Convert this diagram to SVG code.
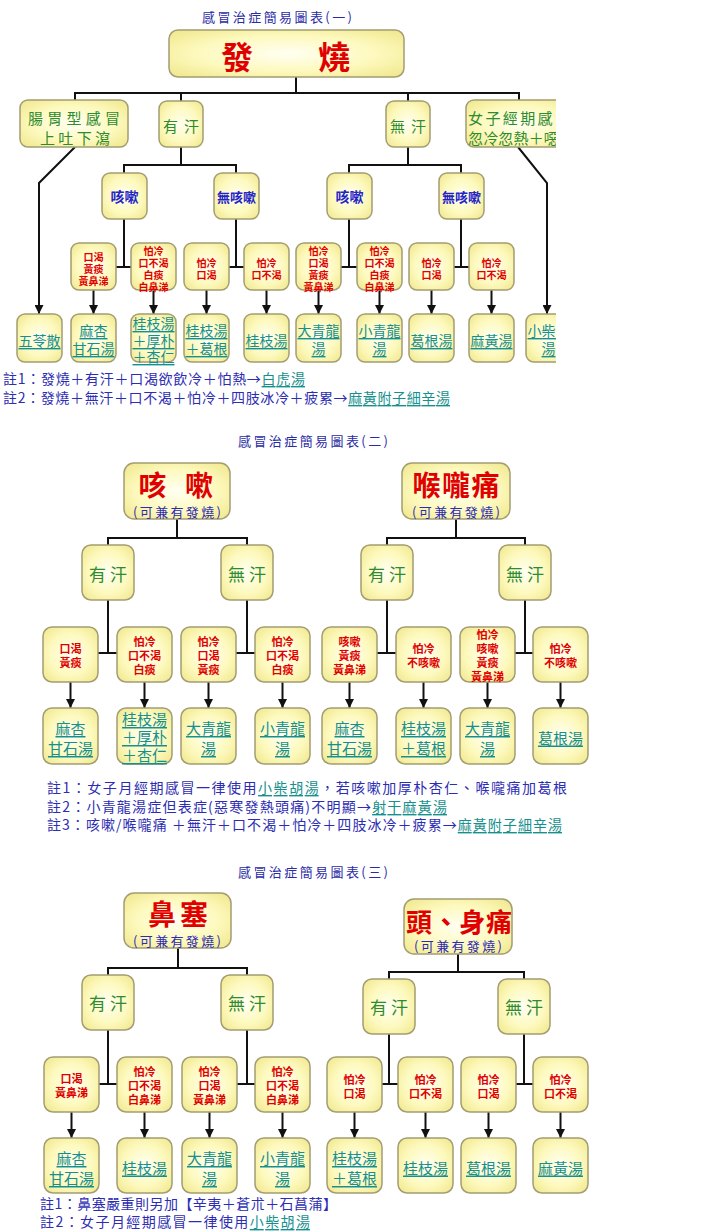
<svg xmlns="http://www.w3.org/2000/svg" width="705" height="1231" viewBox="0 0 705 1231">
<defs>
<radialGradient id="yg" cx="50%" cy="50%" r="70%">
<stop offset="0%" stop-color="#fffff2"/>
<stop offset="55%" stop-color="#fdf9bd"/>
<stop offset="100%" stop-color="#efe68a"/>
</radialGradient>
<marker id="ah" viewBox="0 0 10 10" refX="10" refY="5" markerWidth="9" markerHeight="9" markerUnits="userSpaceOnUse" orient="auto">
<path d="M0,0 L10,5 L0,10 z" fill="#111"/>
</marker>
<clipPath id="c1"><rect x="0" y="0" width="556" height="372"/></clipPath>
</defs>
<style>
.box{fill:url(#yg);stroke:#a39d72;stroke-width:1.5}
.ln{fill:none;stroke:#111;stroke-width:2}
.ar{fill:none;stroke:#111;stroke-width:2;marker-end:url(#ah)}
text{font-family:"Noto Sans CJK TC","Noto Sans CJK SC",sans-serif;text-anchor:middle;dominant-baseline:central}
.title{font-size:13px;fill:#2b2ba6}
.big{font-size:28px;fill:#e00000;font-weight:bold}
.sub{font-size:13px;fill:#2b2bb3}
.sw{font-size:17px;fill:#2e8b2e}
.sw1{font-size:15px;fill:#2e8b2e}
.cg{font-size:13px;fill:#2323c8;font-weight:bold}
.cd{font-size:10px;fill:#e00000;font-weight:bold}
.cd2{font-size:11px;fill:#e00000;font-weight:bold}
.rs{font-size:14px;fill:#16908e;text-decoration:underline}
.rs2{font-size:15px;fill:#16908e;text-decoration:underline}
.note{font-size:14px;fill:#2d2db3;text-anchor:start}
.lk{fill:#16908e;text-decoration:underline}
</style>
<rect width="705" height="1231" fill="#ffffff"/>

<!-- ============ SECTION 1 ============ -->
<g clip-path="url(#c1)">
<text class="title" x="277" y="16" textLength="150" lengthAdjust="spacing">感冒治症簡易圖表(一)</text>
<g id="connectors1">
<path class="ln" d="M296,77 V93 M75,100 V93 H519 V100 M181,93 V101 M408,93 V101"/>
<path class="ar" d="M75,147 L39,183 V314"/>
<path class="ar" d="M518,147 L547,183 V314"/>
<path class="ln" d="M181,147 V165 M124,173 V165 H236 V173"/>
<path class="ln" d="M408,147 V165 M349,173 V165 H461 V173"/>
<path class="ln" d="M124,219 V267 M116,267 H131"/>
<path class="ln" d="M236,219 V267 M229,267 H244"/>
<path class="ln" d="M349,219 V267 M341,267 H357"/>
<path class="ln" d="M461,219 V267 M454,267 H469"/>
<path class="ar" d="M93.5,290 V314"/>
<path class="ar" d="M153.5,290 V314"/>
<path class="ar" d="M206.5,290 V314"/>
<path class="ar" d="M266.5,290 V314"/>
<path class="ar" d="M318.5,290 V314"/>
<path class="ar" d="M379.5,290 V314"/>
<path class="ar" d="M431.5,290 V314"/>
<path class="ar" d="M491.5,290 V314"/>
</g>
<g id="n1-fever"><rect class="box" x="169" y="30" width="235" height="47" rx="9"/>
<text class="big" style="font-size:32px" x="237 286 334" y="55">發　燒</text></g>
<g id="n1-gastro"><rect class="box" x="20" y="100" width="108" height="47" rx="8"/>
<text class="sw1"><tspan x="74" y="117" textLength="92" lengthAdjust="spacing">腸胃型感冒</tspan><tspan x="75" y="137" textLength="70" lengthAdjust="spacing">上吐下瀉</tspan></text></g>
<g id="n1-sweat"><rect class="box" x="159" y="101" width="44" height="46" rx="8"/>
<text class="sw1" x="181" y="125" textLength="36" lengthAdjust="spacing">有汗</text></g>
<g id="n1-nosweat"><rect class="box" x="386" y="101" width="44" height="46" rx="8"/>
<text class="sw1" x="408" y="125" textLength="36" lengthAdjust="spacing">無汗</text></g>
<g id="n1-female"><rect class="box" x="466" y="100" width="112" height="47" rx="8"/>
<text class="sw1" style="text-anchor:start"><tspan x="468" y="117" textLength="102" lengthAdjust="spacing">女子經期感冒</tspan><tspan x="468" y="137" textLength="106" lengthAdjust="spacing">忽冷忽熱＋噁心</tspan></text></g>
<g id="n1-cough-a"><rect class="box" x="102" y="173" width="45" height="46" rx="8"/>
<text class="cg" style="font-size:14px" x="124.5" y="196">咳嗽</text></g>
<g id="n1-nocough-a"><rect class="box" x="214" y="173" width="45" height="46" rx="8"/>
<text class="cg" x="236.5" y="196">無咳嗽</text></g>
<g id="n1-cough-b"><rect class="box" x="327" y="173" width="45" height="46" rx="8"/>
<text class="cg" style="font-size:14px" x="349.5" y="196">咳嗽</text></g>
<g id="n1-nocough-b"><rect class="box" x="439" y="173" width="45" height="46" rx="8"/>
<text class="cg" x="461.5" y="196">無咳嗽</text></g>
<g id="n1-c1"><rect class="box" x="71" y="243" width="45" height="47" rx="8"/>
<text class="cd"><tspan x="93.5" y="256">口渴</tspan><tspan x="93.5" y="268">黃痰</tspan><tspan x="93.5" y="280">黃鼻涕</tspan></text></g>
<g id="n1-c2"><rect class="box" x="131" y="243" width="45" height="47" rx="8"/>
<text class="cd"><tspan x="153.5" y="250">怕冷</tspan><tspan x="153.5" y="262">口不渴</tspan><tspan x="153.5" y="274">白痰</tspan><tspan x="153.5" y="286">白鼻涕</tspan></text></g>
<g id="n1-c3"><rect class="box" x="184" y="243" width="45" height="47" rx="8"/>
<text class="cd"><tspan x="206.5" y="262">怕冷</tspan><tspan x="206.5" y="274">口渴</tspan></text></g>
<g id="n1-c4"><rect class="box" x="244" y="243" width="45" height="47" rx="8"/>
<text class="cd"><tspan x="266.5" y="262">怕冷</tspan><tspan x="266.5" y="274">口不渴</tspan></text></g>
<g id="n1-c5"><rect class="box" x="296" y="243" width="45" height="47" rx="8"/>
<text class="cd"><tspan x="318.5" y="250">怕冷</tspan><tspan x="318.5" y="262">口渴</tspan><tspan x="318.5" y="274">黃痰</tspan><tspan x="318.5" y="286">黃鼻涕</tspan></text></g>
<g id="n1-c6"><rect class="box" x="357" y="243" width="45" height="47" rx="8"/>
<text class="cd"><tspan x="379.5" y="250">怕冷</tspan><tspan x="379.5" y="262">口不渴</tspan><tspan x="379.5" y="274">白痰</tspan><tspan x="379.5" y="286">白鼻涕</tspan></text></g>
<g id="n1-c7"><rect class="box" x="409" y="243" width="45" height="47" rx="8"/>
<text class="cd"><tspan x="431.5" y="262">怕冷</tspan><tspan x="431.5" y="274">口渴</tspan></text></g>
<g id="n1-c8"><rect class="box" x="469" y="243" width="45" height="47" rx="8"/>
<text class="cd"><tspan x="491.5" y="262">怕冷</tspan><tspan x="491.5" y="274">口不渴</tspan></text></g>
<g id="n1-r0"><rect class="box" x="17" y="314" width="45" height="48" rx="8"/>
<text class="rs" x="39.5" y="340">五苓散</text></g>
<g id="n1-r1"><rect class="box" x="71" y="314" width="45" height="48" rx="8"/>
<text class="rs"><tspan x="93.5" y="330">麻杏</tspan><tspan x="93.5" y="348">甘石湯</tspan></text></g>
<g id="n1-r2"><rect class="box" x="131" y="314" width="45" height="48" rx="8"/>
<text class="rs"><tspan x="153.5" y="323">桂枝湯</tspan><tspan x="153.5" y="340">＋厚朴</tspan><tspan x="153.5" y="356">＋杏仁</tspan></text></g>
<g id="n1-r3"><rect class="box" x="184" y="314" width="45" height="48" rx="8"/>
<text class="rs"><tspan x="206.5" y="330">桂枝湯</tspan><tspan x="206.5" y="348">＋葛根</tspan></text></g>
<g id="n1-r4"><rect class="box" x="244" y="314" width="45" height="48" rx="8"/>
<text class="rs" x="266.5" y="340">桂枝湯</text></g>
<g id="n1-r5"><rect class="box" x="296" y="314" width="45" height="48" rx="8"/>
<text class="rs"><tspan x="318.5" y="330">大青龍</tspan><tspan x="318.5" y="348">湯</tspan></text></g>
<g id="n1-r6"><rect class="box" x="357" y="314" width="45" height="48" rx="8"/>
<text class="rs"><tspan x="379.5" y="330">小青龍</tspan><tspan x="379.5" y="348">湯</tspan></text></g>
<g id="n1-r7"><rect class="box" x="409" y="314" width="45" height="48" rx="8"/>
<text class="rs" x="431.5" y="340">葛根湯</text></g>
<g id="n1-r8"><rect class="box" x="469" y="314" width="45" height="48" rx="8"/>
<text class="rs" x="491.5" y="340">麻黃湯</text></g>
<g id="n1-r9"><rect class="box" x="526" y="314" width="45" height="48" rx="8"/>
<text class="rs"><tspan x="548.5" y="330">小柴胡</tspan><tspan x="548.5" y="348">湯</tspan></text></g>
</g>
<text class="note" x="3" y="378" textLength="302" lengthAdjust="spacing">註1：發燒＋有汗＋口渴欲飲冷＋怕熱→<tspan class="lk">白虎湯</tspan></text>
<text class="note" x="3" y="397" textLength="447" lengthAdjust="spacing">註2：發燒＋無汗＋口不渴＋怕冷＋四肢冰冷＋疲累→<tspan class="lk">麻黃附子細辛湯</tspan></text>

<!-- ============ SECTION 2 ============ -->
<text class="title" x="313" y="440" textLength="150" lengthAdjust="spacing">感冒治症簡易圖表(二)</text>
<g id="connectors2">
<path class="ln" d="M177,519 V538 M108,545 V538 H247 V545"/>
<path class="ln" d="M456,519 V538 M387,545 V538 H525 V545"/>
<path class="ln" d="M108,600 V653 M98,653 H117"/>
<path class="ln" d="M247,600 V653 M236,653 H255"/>
<path class="ln" d="M387,600 V653 M377,653 H396"/>
<path class="ln" d="M525,600 V653 M515,653 H533"/>
<path class="ar" d="M70.5,682 V708"/>
<path class="ar" d="M144.5,682 V708"/>
<path class="ar" d="M208.5,682 V708"/>
<path class="ar" d="M282.5,682 V708"/>
<path class="ar" d="M349.5,682 V708"/>
<path class="ar" d="M423.5,682 V708"/>
<path class="ar" d="M487.5,682 V708"/>
<path class="ar" d="M560.5,682 V708"/>
</g>
<g id="n2-cough"><rect class="box" x="124" y="463" width="106" height="56" rx="10"/>
<text class="big" x="152.5 176 199" y="484">咳　嗽</text>
<text class="sub" x="177" y="511" textLength="88" lengthAdjust="spacing">(可兼有發燒)</text></g>
<g id="n2-throat"><rect class="box" x="402" y="463" width="108" height="56" rx="10"/>
<text class="big" x="456" y="484" textLength="87" lengthAdjust="spacing">喉嚨痛</text>
<text class="sub" x="456" y="511" textLength="88" lengthAdjust="spacing">(可兼有發燒)</text></g>
<g id="n2-s1"><rect class="box" x="82" y="545" width="52" height="55" rx="9"/>
<text class="sw" x="108" y="573" textLength="38" lengthAdjust="spacing">有汗</text></g>
<g id="n2-s2"><rect class="box" x="221" y="545" width="52" height="55" rx="9"/>
<text class="sw" x="247" y="573" textLength="38" lengthAdjust="spacing">無汗</text></g>
<g id="n2-s3"><rect class="box" x="361" y="545" width="52" height="55" rx="9"/>
<text class="sw" x="387" y="573" textLength="38" lengthAdjust="spacing">有汗</text></g>
<g id="n2-s4"><rect class="box" x="499" y="545" width="52" height="55" rx="9"/>
<text class="sw" x="525" y="573" textLength="38" lengthAdjust="spacing">無汗</text></g>
<g id="n2-c1"><rect class="box" x="43" y="627" width="55" height="55" rx="9"/>
<text class="cd2"><tspan x="70.5" y="648">口渴</tspan><tspan x="70.5" y="662">黃痰</tspan></text></g>
<g id="n2-c2"><rect class="box" x="117" y="627" width="55" height="55" rx="9"/>
<text class="cd2"><tspan x="144.5" y="641">怕冷</tspan><tspan x="144.5" y="655">口不渴</tspan><tspan x="144.5" y="669">白痰</tspan></text></g>
<g id="n2-c3"><rect class="box" x="181" y="627" width="55" height="55" rx="9"/>
<text class="cd2"><tspan x="208.5" y="641">怕冷</tspan><tspan x="208.5" y="655">口渴</tspan><tspan x="208.5" y="669">黃痰</tspan></text></g>
<g id="n2-c4"><rect class="box" x="255" y="627" width="55" height="55" rx="9"/>
<text class="cd2"><tspan x="282.5" y="641">怕冷</tspan><tspan x="282.5" y="655">口不渴</tspan><tspan x="282.5" y="669">白痰</tspan></text></g>
<g id="n2-c5"><rect class="box" x="322" y="627" width="55" height="55" rx="9"/>
<text class="cd2"><tspan x="349.5" y="641">咳嗽</tspan><tspan x="349.5" y="655">黃痰</tspan><tspan x="349.5" y="669">黃鼻涕</tspan></text></g>
<g id="n2-c6"><rect class="box" x="396" y="627" width="55" height="55" rx="9"/>
<text class="cd2"><tspan x="423.5" y="648">怕冷</tspan><tspan x="423.5" y="662">不咳嗽</tspan></text></g>
<g id="n2-c7"><rect class="box" x="460" y="627" width="55" height="55" rx="9"/>
<text class="cd2"><tspan x="487.5" y="634">怕冷</tspan><tspan x="487.5" y="648">咳嗽</tspan><tspan x="487.5" y="662">黃痰</tspan><tspan x="487.5" y="676">黃鼻涕</tspan></text></g>
<g id="n2-c8"><rect class="box" x="533" y="627" width="55" height="55" rx="9"/>
<text class="cd2"><tspan x="560.5" y="648">怕冷</tspan><tspan x="560.5" y="662">不咳嗽</tspan></text></g>
<g id="n2-r1"><rect class="box" x="43" y="708" width="55" height="56" rx="9"/>
<text class="rs2"><tspan x="70.5" y="727">麻杏</tspan><tspan x="70.5" y="747">甘石湯</tspan></text></g>
<g id="n2-r2"><rect class="box" x="117" y="708" width="55" height="56" rx="9"/>
<text class="rs2"><tspan x="144.5" y="718">桂枝湯</tspan><tspan x="144.5" y="736">＋厚朴</tspan><tspan x="144.5" y="754">＋杏仁</tspan></text></g>
<g id="n2-r3"><rect class="box" x="181" y="708" width="55" height="56" rx="9"/>
<text class="rs2"><tspan x="208.5" y="727">大青龍</tspan><tspan x="208.5" y="747">湯</tspan></text></g>
<g id="n2-r4"><rect class="box" x="255" y="708" width="55" height="56" rx="9"/>
<text class="rs2"><tspan x="282.5" y="727">小青龍</tspan><tspan x="282.5" y="747">湯</tspan></text></g>
<g id="n2-r5"><rect class="box" x="322" y="708" width="55" height="56" rx="9"/>
<text class="rs2"><tspan x="349.5" y="727">麻杏</tspan><tspan x="349.5" y="747">甘石湯</tspan></text></g>
<g id="n2-r6"><rect class="box" x="396" y="708" width="55" height="56" rx="9"/>
<text class="rs2"><tspan x="423.5" y="727">桂枝湯</tspan><tspan x="423.5" y="747">＋葛根</tspan></text></g>
<g id="n2-r7"><rect class="box" x="460" y="708" width="55" height="56" rx="9"/>
<text class="rs2"><tspan x="487.5" y="727">大青龍</tspan><tspan x="487.5" y="747">湯</tspan></text></g>
<g id="n2-r8"><rect class="box" x="533" y="708" width="55" height="56" rx="9"/>
<text class="rs2" x="560.5" y="737">葛根湯</text></g>
<text class="note" x="47" y="787" textLength="520" lengthAdjust="spacing">註1：女子月經期感冒一律使用<tspan class="lk">小柴胡湯</tspan>，若咳嗽加厚朴杏仁、喉嚨痛加葛根</text>
<text class="note" x="47" y="806" textLength="400" lengthAdjust="spacing">註2：小青龍湯症但表症(惡寒發熱頭痛)不明顯→<tspan class="lk">射干麻黃湯</tspan></text>
<text class="note" x="47" y="824" textLength="515" lengthAdjust="spacing">註3：咳嗽/喉嚨痛 ＋無汗＋口不渴＋怕冷＋四肢冰冷＋疲累→<tspan class="lk">麻黃附子細辛湯</tspan></text>

<!-- ============ SECTION 3 ============ -->
<text class="title" x="313" y="871" textLength="150" lengthAdjust="spacing">感冒治症簡易圖表(三)</text>
<g id="connectors3">
<path class="ln" d="M178,948 V968 M108,975 V968 H247 V975"/>
<path class="ln" d="M458,954 V972 M389,979 V972 H524 V979"/>
<path class="ln" d="M108,1030 V1084 M99,1084 H117"/>
<path class="ln" d="M247,1030 V1084 M237,1084 H255"/>
<path class="ln" d="M389,1034 V1084 M382,1084 H398"/>
<path class="ln" d="M524,1034 V1084 M516,1084 H533"/>
<path class="ar" d="M71.5,1112 V1138"/>
<path class="ar" d="M144.5,1112 V1138"/>
<path class="ar" d="M209.5,1112 V1138"/>
<path class="ar" d="M282.5,1112 V1138"/>
<path class="ar" d="M354.5,1112 V1138"/>
<path class="ar" d="M425.5,1112 V1138"/>
<path class="ar" d="M488.5,1112 V1138"/>
<path class="ar" d="M560.5,1112 V1138"/>
</g>
<g id="n3-nose"><rect class="box" x="124" y="893" width="107" height="55" rx="10"/>
<text class="big" x="178" y="913" textLength="60" lengthAdjust="spacing">鼻塞</text>
<text class="sub" x="177" y="940" textLength="88" lengthAdjust="spacing">(可兼有發燒)</text></g>
<g id="n3-head"><rect class="box" x="404" y="899" width="108" height="55" rx="10"/>
<text class="big" style="font-size:26px" x="459" y="920" textLength="106" lengthAdjust="spacing">頭、身痛</text>
<text class="sub" x="458" y="945" textLength="88" lengthAdjust="spacing">(可兼有發燒)</text></g>
<g id="n3-s1"><rect class="box" x="82" y="975" width="52" height="55" rx="9"/>
<text class="sw" x="108" y="1002" textLength="38" lengthAdjust="spacing">有汗</text></g>
<g id="n3-s2"><rect class="box" x="221" y="975" width="52" height="55" rx="9"/>
<text class="sw" x="247" y="1002" textLength="38" lengthAdjust="spacing">無汗</text></g>
<g id="n3-s3"><rect class="box" x="363" y="979" width="52" height="55" rx="9"/>
<text class="sw" x="389" y="1006" textLength="38" lengthAdjust="spacing">有汗</text></g>
<g id="n3-s4"><rect class="box" x="498" y="979" width="52" height="55" rx="9"/>
<text class="sw" x="524" y="1006" textLength="38" lengthAdjust="spacing">無汗</text></g>
<g id="n3-c1"><rect class="box" x="44" y="1057" width="55" height="55" rx="9"/>
<text class="cd2"><tspan x="71.5" y="1078">口渴</tspan><tspan x="71.5" y="1092">黃鼻涕</tspan></text></g>
<g id="n3-c2"><rect class="box" x="117" y="1057" width="55" height="55" rx="9"/>
<text class="cd2"><tspan x="144.5" y="1071">怕冷</tspan><tspan x="144.5" y="1085">口不渴</tspan><tspan x="144.5" y="1099">白鼻涕</tspan></text></g>
<g id="n3-c3"><rect class="box" x="182" y="1057" width="55" height="55" rx="9"/>
<text class="cd2"><tspan x="209.5" y="1071">怕冷</tspan><tspan x="209.5" y="1085">口渴</tspan><tspan x="209.5" y="1099">黃鼻涕</tspan></text></g>
<g id="n3-c4"><rect class="box" x="255" y="1057" width="55" height="55" rx="9"/>
<text class="cd2"><tspan x="282.5" y="1071">怕冷</tspan><tspan x="282.5" y="1085">口不渴</tspan><tspan x="282.5" y="1099">白鼻涕</tspan></text></g>
<g id="n3-c5"><rect class="box" x="327" y="1057" width="55" height="55" rx="9"/>
<text class="cd2"><tspan x="354.5" y="1079">怕冷</tspan><tspan x="354.5" y="1093">口渴</tspan></text></g>
<g id="n3-c6"><rect class="box" x="398" y="1057" width="55" height="55" rx="9"/>
<text class="cd2"><tspan x="425.5" y="1079">怕冷</tspan><tspan x="425.5" y="1093">口不渴</tspan></text></g>
<g id="n3-c7"><rect class="box" x="461" y="1057" width="55" height="55" rx="9"/>
<text class="cd2"><tspan x="488.5" y="1079">怕冷</tspan><tspan x="488.5" y="1093">口渴</tspan></text></g>
<g id="n3-c8"><rect class="box" x="533" y="1057" width="55" height="55" rx="9"/>
<text class="cd2"><tspan x="560.5" y="1079">怕冷</tspan><tspan x="560.5" y="1093">口不渴</tspan></text></g>
<g id="n3-r1"><rect class="box" x="44" y="1138" width="55" height="55" rx="9"/>
<text class="rs2"><tspan x="71.5" y="1157">麻杏</tspan><tspan x="71.5" y="1177">甘石湯</tspan></text></g>
<g id="n3-r2"><rect class="box" x="117" y="1138" width="55" height="55" rx="9"/>
<text class="rs2" x="144.5" y="1167">桂枝湯</text></g>
<g id="n3-r3"><rect class="box" x="182" y="1138" width="55" height="55" rx="9"/>
<text class="rs2"><tspan x="209.5" y="1157">大青龍</tspan><tspan x="209.5" y="1177">湯</tspan></text></g>
<g id="n3-r4"><rect class="box" x="255" y="1138" width="55" height="55" rx="9"/>
<text class="rs2"><tspan x="282.5" y="1157">小青龍</tspan><tspan x="282.5" y="1177">湯</tspan></text></g>
<g id="n3-r5"><rect class="box" x="327" y="1138" width="55" height="55" rx="9"/>
<text class="rs2"><tspan x="354.5" y="1157">桂枝湯</tspan><tspan x="354.5" y="1177">＋葛根</tspan></text></g>
<g id="n3-r6"><rect class="box" x="398" y="1138" width="55" height="55" rx="9"/>
<text class="rs2" x="425.5" y="1167">桂枝湯</text></g>
<g id="n3-r7"><rect class="box" x="461" y="1138" width="55" height="55" rx="9"/>
<text class="rs2" x="488.5" y="1167">葛根湯</text></g>
<g id="n3-r8"><rect class="box" x="533" y="1138" width="55" height="55" rx="9"/>
<text class="rs2" x="560.5" y="1167">麻黃湯</text></g>
<text class="note" x="40" y="1203" textLength="297" lengthAdjust="spacing">註1：鼻塞嚴重則另加【辛夷＋蒼朮＋石菖蒲】</text>
<text class="note" x="40" y="1221" textLength="270" lengthAdjust="spacing">註2：女子月經期感冒一律使用<tspan class="lk">小柴胡湯</tspan></text>
</svg>
